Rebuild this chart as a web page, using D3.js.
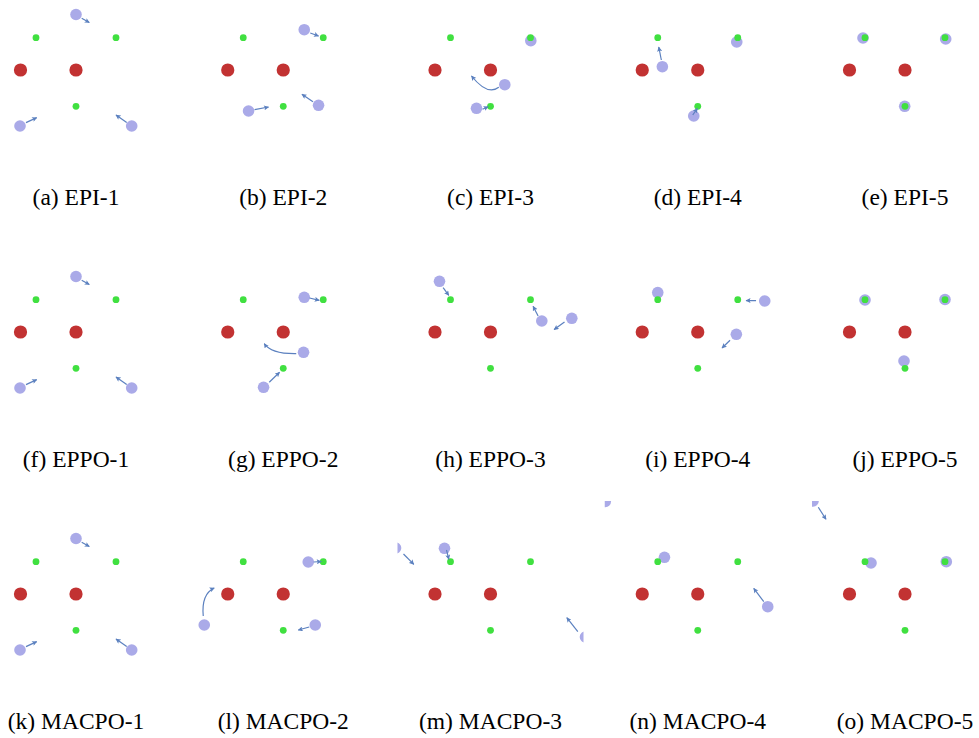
<!DOCTYPE html>
<html>
<head>
<meta charset="utf-8">
<script src="https://cdn.jsdelivr.net/npm/d3@7"></script>
<style>
  html, body { margin: 0; padding: 0; background: #fff; }
  svg { display: block; }
</style>
</head>
<body>
<svg id="chart" width="979" height="738"></svg>
<script>
// ---------------- DATA (world units, y up, origin = right obstacle) ----------------
const panelLabels = [
  "(a) EPI-1", "(b) EPI-2", "(c) EPI-3", "(d) EPI-4", "(e) EPI-5",
  "(f) EPPO-1", "(g) EPPO-2", "(h) EPPO-3", "(i) EPPO-4", "(j) EPPO-5",
  "(k) MACPO-1", "(l) MACPO-2", "(m) MACPO-3", "(n) MACPO-4", "(o) MACPO-5"
];

// red obstacles (same in every panel)
const obstacles = [[-55.5, 0], [0, 0]];
// green target landmarks (same in every panel)
const targets = [[-40, 32.3], [40, 32.3], [0, -36.3]];

// agent positions per panel
const agentPositions = [
  [[0, 55.5], [-56, -56], [55.7, -56]],
  [[21, 40.3], [-34.7, -41], [35.3, -35.3]],
  [[40.3, 29.3], [14.3, -14.7], [-14, -38.3]],
  [[-35.4, 3.3], [39, 28], [-4, -46]],
  [[-42, 32], [40.7, 31], [-0.3, -36.3]],
  [[0, 55.5], [-56, -56], [55.7, -56]],
  [[21, 34.7], [20.3, -20.3], [-19.7, -55.3]],
  [[-51, 50.7], [51.3, 11], [81.3, 13.7]],
  [[-40, 39.4], [67, 31], [38.6, -2.3]],
  [[-40, 32], [40, 32.5], [-1, -29]],
  [[0, 55.5], [-56, -56], [55.7, -56]],
  [[25, 32], [32, -31], [-79, -31]],
  [[-95, 46], [-46, 45.7], [95, -43]],
  [[-92.5, 92.5], [-33.3, 36.7], [70, -12.7]],
  [[-92, 93], [-34, 31], [41.3, 32.3]]
];

// velocity arrows per panel: [start, end, bend control point or null]
const velocityArrows = [
  [[[5.7, 51.7], [13.3, 47.4], null], [[-50, -52.6], [-39.3, -47.6], null], [[50.7, -52.6], [40, -45], null]],
  [[[27, 37], [35.3, 34], null], [[-28.7, -39.7], [-14.7, -37], null], [[29.7, -31.7], [18.7, -24.3], null]],
  [[[8.3, -17.3], [-19, -6], [-3, -26]], [[-8, -39.3], [-2.3, -36.7], null]],
  [[[-36.4, 10], [-39, 23], null], [[-5, -45], [-0.4, -38.3], null]],
  [],
  [[[5.7, 51.7], [13.3, 47.4], null], [[-50, -52.6], [-39.3, -47.6], null], [[50.7, -52.6], [40, -45], null]],
  [[[26.3, 34], [36, 31.7], null], [[13, -21.6], [-19, -11.6], [-12, -22]], [[-14, -50.3], [-3.7, -40.3], null]],
  [[[-47.4, 44.4], [-41.7, 36.7], null], [[47.6, 16], [42.6, 25.7], null], [[74, 10], [63.6, 2.4], null]],
  [[[58.3, 31.4], [48.3, 31.4], null], [[32.3, -8.3], [24.3, -16], null]],
  [],
  [[[5.7, 51.7], [13.3, 47.4], null], [[-50, -52.6], [-39.3, -47.6], null], [[50.7, -52.6], [40, -45], null]],
  [[[30.5, 32], [38, 32.5], null], [[26, -33], [15, -36], null], [[-80, -22], [-69, 6], [-82, 0]]],
  [[[-87, 40], [-76.7, 29.7], null], [[-44, 44], [-41.7, 34.7], null], [[87.3, -37.7], [76.3, -23.7], null]],
  [[[66, -7.7], [56, 5.7], null]],
  [[[-86.7, 86.7], [-79, 74.7], null]]
];

// ---------------- LAYOUT ----------------
const nCols = 5, nRows = 3;
const half = 93;              // half-size of each panel's view window in px
const colCenter = d3.scaleLinear().domain([0, nCols - 1]).range([76, 905]);
const rowCenter = d3.scaleLinear().domain([0, nRows - 1]).range([70, 594]);

const colors = {
  obstacle: "#c23232",
  target: "#40e040",
  agent: "#aaaae8",
  arrow: "#5b80bf"
};

const svg = d3.select("#chart");
const defs = svg.append("defs");
defs.append("marker")
  .attr("id", "head")
  .attr("viewBox", "0 0 10 10")
  .attr("refX", 9).attr("refY", 5)
  .attr("markerWidth", 5.5).attr("markerHeight", 5)
  .attr("markerUnits", "userSpaceOnUse")
  .attr("orient", "auto")
  .append("path")
  .attr("d", "M0,0L10,5L0,10L2,5z")
  .attr("fill", colors.arrow);

panelLabels.forEach((label, i) => {
  const col = i % nCols, row = Math.floor(i / nCols);
  const cx = colCenter(col), cy = rowCenter(row);
  const x = d3.scaleLinear().domain([-half, half]).range([cx - half, cx + half]);
  const y = d3.scaleLinear().domain([-half, half]).range([cy + half, cy - half]);

  defs.append("clipPath").attr("id", "clip" + i)
    .append("rect")
    .attr("x", cx - half).attr("y", cy - half)
    .attr("width", 2 * half).attr("height", 2 * half);

  const g = svg.append("g").attr("clip-path", `url(#clip${i})`);

  g.selectAll("circle.obs").data(obstacles).join("circle")
    .attr("class", "obs")
    .attr("cx", d => x(d[0])).attr("cy", d => y(d[1]))
    .attr("r", 6.6).attr("fill", colors.obstacle);

  g.selectAll("circle.agent").data(agentPositions[i]).join("circle")
    .attr("class", "agent")
    .attr("cx", d => x(d[0])).attr("cy", d => y(d[1]))
    .attr("r", 5.8).attr("fill", colors.agent);

  g.selectAll("circle.tgt").data(targets).join("circle")
    .attr("class", "tgt")
    .attr("cx", d => x(d[0])).attr("cy", d => y(d[1]))
    .attr("r", 3.4).attr("fill", colors.target);

  g.selectAll("path.arrow").data(velocityArrows[i]).join("path")
    .attr("class", "arrow")
    .attr("d", d => {
      const p = d3.path();
      p.moveTo(x(d[0][0]), y(d[0][1]));
      if (d[2]) p.quadraticCurveTo(x(d[2][0]), y(d[2][1]), x(d[1][0]), y(d[1][1]));
      else p.lineTo(x(d[1][0]), y(d[1][1]));
      return p.toString();
    })
    .attr("fill", "none")
    .attr("stroke", colors.arrow)
    .attr("stroke-width", 1.2)
    .attr("marker-end", "url(#head)");

  svg.append("text")
    .attr("x", cx).attr("y", cy + 135)
    .attr("text-anchor", "middle")
    .attr("font-family", "'Liberation Serif', 'Times New Roman', serif")
    .attr("font-size", 23.5)
    .attr("fill", "#000")
    .text(label);
});
</script>
</body>
</html>
